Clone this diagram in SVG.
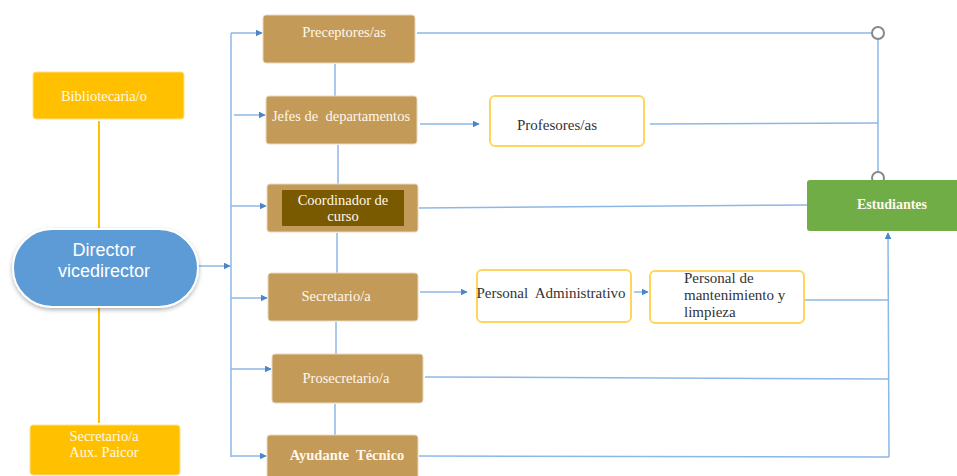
<svg xmlns="http://www.w3.org/2000/svg" width="957" height="476" viewBox="0 0 957 476">
<defs>
<style>
.tan{fill:#C49A58;stroke:#E8D9BE;stroke-width:1}
.yel{fill:#FFC000;stroke:#FFE08A;stroke-width:1}
.wht{fill:#FFFFFF;stroke:#FFD65C;stroke-width:2}
.t{font-family:"Liberation Serif","Times New Roman",serif;font-size:14.5px;fill:#FFF8EC;text-anchor:middle;white-space:pre}
.d{fill:#333333;font-size:15px}
.c{fill:none;stroke:#8DB8E6;stroke-width:1.5}
.y{fill:none;stroke:#FFC000;stroke-width:2}
.k{fill:#FFFFFF;stroke:#888888;stroke-width:2}
</style>
<marker id="ah" viewBox="0 0 10 10" refX="9" refY="5" markerWidth="7" markerHeight="7" markerUnits="userSpaceOnUse" orient="auto"><path d="M0,0 L10,5 L0,10 z" fill="#4A86C8"/></marker>
<filter id="sh" x="-10%" y="-10%" width="120%" height="130%"><feDropShadow dx="0" dy="2" stdDeviation="2" flood-color="#000" flood-opacity="0.3"/></filter>
</defs>
<g id="connectors">
<line class="y" x1="99" y1="121" x2="99" y2="229"/>
<line class="y" x1="99" y1="308" x2="99" y2="423"/>
<line class="c" x1="231" y1="33" x2="231" y2="457"/>
<line class="c" x1="198" y1="266" x2="230" y2="266" marker-end="url(#ah)"/>
<line class="c" x1="231" y1="33" x2="262" y2="33" marker-end="url(#ah)"/>
<line class="c" x1="234" y1="115" x2="265" y2="115" marker-end="url(#ah)"/>
<line class="c" x1="231" y1="206" x2="266" y2="206" marker-end="url(#ah)"/>
<line class="c" x1="231" y1="298" x2="267" y2="298" marker-end="url(#ah)"/>
<line class="c" x1="231" y1="369" x2="271" y2="369" marker-end="url(#ah)"/>
<line class="c" x1="231" y1="456" x2="266" y2="456" marker-end="url(#ah)"/>
<line class="c" x1="335" y1="64" x2="335" y2="96"/>
<line class="c" x1="338" y1="145" x2="338" y2="184"/>
<line class="c" x1="337" y1="233" x2="337" y2="273"/>
<line class="c" x1="336" y1="322" x2="336" y2="354"/>
<line class="c" x1="335" y1="404" x2="335" y2="435"/>
<line class="c" x1="417" y1="33" x2="872" y2="33"/>
<line class="c" x1="878" y1="39" x2="878" y2="172"/>
<line class="c" x1="420" y1="124" x2="479" y2="124" marker-end="url(#ah)"/>
<line class="c" x1="650" y1="124" x2="878" y2="123"/>
<line class="c" x1="419" y1="208" x2="807" y2="205"/>
<line class="c" x1="420" y1="292" x2="467" y2="292" marker-end="url(#ah)"/>
<line class="c" x1="634" y1="292" x2="648" y2="292" marker-end="url(#ah)"/>
<line class="c" x1="805" y1="300" x2="889" y2="300"/>
<line class="c" x1="425" y1="377" x2="889" y2="379"/>
<line class="c" x1="419" y1="456" x2="889" y2="457"/>
<line class="c" x1="889" y1="457" x2="888" y2="233" marker-end="url(#ah)"/>
<circle class="k" cx="878" cy="33" r="6"/>
<circle class="k" cx="878" cy="178" r="6"/>
</g>
<g id="director">
<rect x="13" y="229" width="185" height="78" rx="39" fill="#5B9BD5" stroke="#FFFFFF" stroke-width="2" filter="url(#sh)"/>
<text x="104" y="256" font-family="Liberation Sans,Arial,sans-serif" font-size="18" fill="#FFFFFF" text-anchor="middle">Director</text>
<text x="104" y="277" font-family="Liberation Sans,Arial,sans-serif" font-size="18" fill="#FFFFFF" text-anchor="middle">vicedirector</text>
</g>
<g id="bibliotecaria">
<rect class="yel" x="33" y="72" width="151" height="47" rx="3"/>
<text class="t" x="104" y="101">Bibliotecaria/o</text>
</g>
<g id="secretario-aux">
<rect class="yel" x="30" y="425" width="150" height="50" rx="3"/>
<text class="t" x="104" y="441">Secretario/a</text>
<text class="t" x="104" y="457">Aux. Paicor</text>
</g>
<g id="preceptores">
<rect class="tan" x="263" y="15" width="152" height="48" rx="3"/>
<text class="t" x="344" y="37">Preceptores/as</text>
</g>
<g id="jefes">
<rect class="tan" x="266" y="96" width="151" height="48" rx="3"/>
<text class="t" x="341" y="121">Jefes de  departamentos</text>
</g>
<g id="coordinador">
<rect class="tan" x="267" y="184" width="151" height="48" rx="3"/>
<rect x="282" y="190" width="122" height="36" fill="#7A5A00"/>
<text class="t" x="343" y="205">Coordinador de</text>
<text class="t" x="343" y="221">curso</text>
</g>
<g id="secretario">
<rect class="tan" x="268" y="273" width="150" height="48" rx="3"/>
<text class="t" x="336" y="301">Secretario/a</text>
</g>
<g id="prosecretario">
<rect class="tan" x="272" y="354" width="151" height="49" rx="3"/>
<text class="t" x="346" y="383">Prosecretario/a</text>
</g>
<g id="ayudante">
<rect class="tan" x="267" y="435" width="151" height="45" rx="3"/>
<text class="t" x="347" y="460" font-weight="bold">Ayudante  Técnico</text>
</g>
<g id="profesores">
<rect class="wht" x="490" y="96" width="154" height="50" rx="5"/>
<text class="t d" x="557" y="130">Profesores/as</text>
</g>
<g id="personal-admin">
<rect class="wht" x="477" y="270" width="154" height="52" rx="5"/>
<text class="t d" x="551" y="298">Personal  Administrativo</text>
</g>
<g id="personal-mant">
<rect class="wht" x="650" y="271" width="154" height="52" rx="5"/>
<text class="t d" x="684" y="283" style="text-anchor:start">Personal de</text>
<text class="t d" x="684" y="300" style="text-anchor:start">mantenimiento y</text>
<text class="t d" x="684" y="317" style="text-anchor:start">limpieza</text>
</g>
<g id="estudiantes">
<rect x="807" y="180" width="152" height="51" rx="3" fill="#70AD47"/>
<text class="t" x="892" y="209" font-weight="bold" style="font-size:14px">Estudiantes</text>
</g>
</svg>
